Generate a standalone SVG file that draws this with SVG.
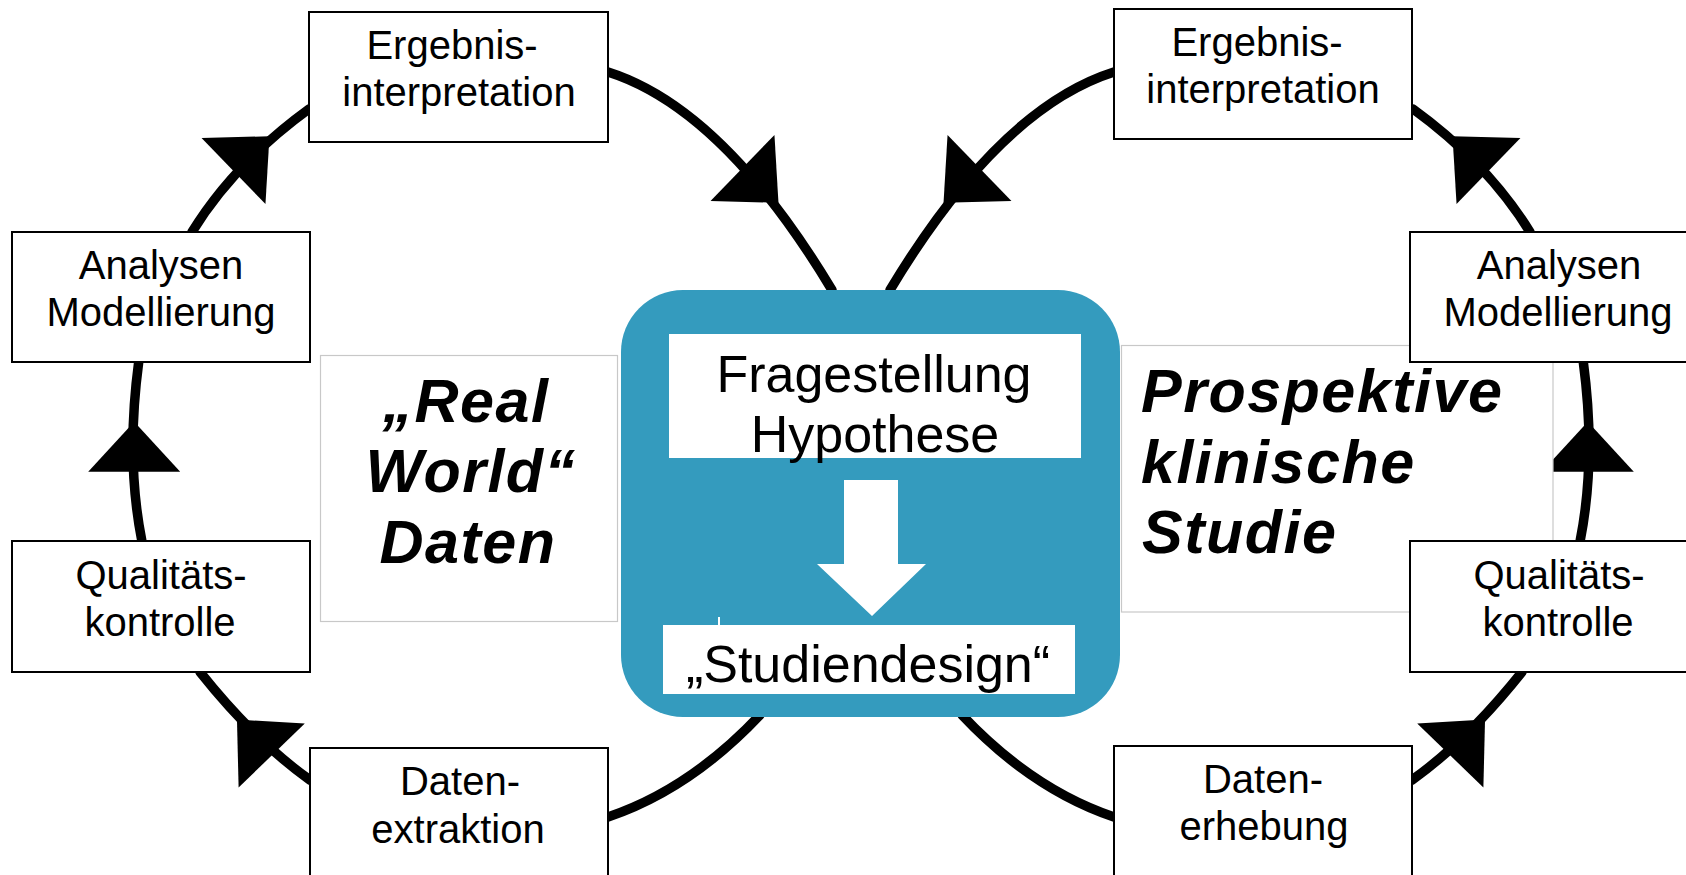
<svg xmlns="http://www.w3.org/2000/svg" xmlns:xlink="http://www.w3.org/1999/xlink" width="1686" height="875" viewBox="0 0 1686 875">
  <style>
    .ring { fill: none; stroke: #000; stroke-width: 9.5; stroke-linecap: round; }
    .ah { fill: #000; }
    .box { fill: #fff; stroke: #000; stroke-width: 2; }
    .frame { fill: #fff; stroke: #c8c8c8; stroke-width: 1.2; }
    .lbl { font-family: "Liberation Sans", Arial, sans-serif; font-size: 40px; fill: #000; text-anchor: middle; }
    .big { font-family: "Liberation Sans", Arial, sans-serif; font-size: 61px; font-weight: bold; font-style: italic; fill: #000; letter-spacing: 1.5px; }
    .ctr { font-family: "Liberation Sans", Arial, sans-serif; font-size: 52px; fill: #000; text-anchor: middle; }
  </style>
  <defs>
    <path id="arrowHead" d="M0,-46 L50,0 L0,46 Z"/>
  </defs>
  <rect width="1686" height="875" fill="#fff"/>

  <g id="connectors">
    <!-- left cycle -->
    <path class="ring" d="M192,232 Q234.4,163.2 309,109"/>
    <path class="ring" d="M608,72 Q723,108.5 832,290"/>
    <path class="ring" d="M760,715 Q690,789.3 608,817"/>
    <path class="ring" d="M310,780 Q255.1,741.1 200,672"/>
    <path class="ring" d="M141.7,540 Q125.8,459 138.7,362"/>
    <use class="ah" xlink:href="#arrowHead" transform="translate(233.5,171) rotate(-44)"/>
    <use class="ah" xlink:href="#arrowHead" transform="translate(742.5,168) rotate(44)"/>
    <use class="ah" xlink:href="#arrowHead" transform="translate(134.2,471.7) rotate(-90)"/>
    <use class="ah" xlink:href="#arrowHead" transform="translate(271.7,755.5) rotate(-134)"/>
    <!-- right cycle -->
    <path class="ring" d="M1530,232 Q1487.6,163.2 1413,109"/>
    <path class="ring" d="M1114,72 Q999,108.5 890,290"/>
    <path class="ring" d="M962,715 Q1032,789.3 1114,817"/>
    <path class="ring" d="M1412,780 Q1466.9,741.1 1522,672"/>
    <path class="ring" d="M1580.3,540 Q1596.2,459 1583.3,362"/>
    <use class="ah" xlink:href="#arrowHead" transform="translate(1488.5,171) rotate(224)"/>
    <use class="ah" xlink:href="#arrowHead" transform="translate(979.5,168) rotate(136)"/>
    <use class="ah" xlink:href="#arrowHead" transform="translate(1587.8,471.7) rotate(-90)"/>
    <use class="ah" xlink:href="#arrowHead" transform="translate(1450.3,755.5) rotate(-46)"/>
  </g>

  <g id="realWorld">
    <rect class="frame" x="320.5" y="355.5" width="297" height="266"/>
    <text class="big" text-anchor="middle" x="466" y="422">„Real</text>
    <text class="big" text-anchor="middle" x="471" y="492">World“</text>
    <text class="big" text-anchor="middle" x="468" y="563">Daten</text>
  </g>

  <g id="prospektiv">
    <rect class="frame" x="1121.5" y="345.5" width="431.5" height="266.5"/>
    <text class="big" x="1141" y="412">Prospektive</text>
    <text class="big" x="1141" y="483">klinische</text>
    <text class="big" x="1142" y="553">Studie</text>
  </g>

  <g id="center">
    <rect x="621" y="290" width="499" height="427" rx="62" ry="62" fill="#349bbe"/>
    <rect x="669" y="334" width="412" height="124" fill="#fff"/>
    <text class="ctr" x="874" y="392">Fragestellung</text>
    <text class="ctr" x="875" y="452">Hypothese</text>
    <polygon points="844,480 898,480 898,564 926,564 872,616 817,564 844,564" fill="#fff"/>
    <rect x="663" y="625" width="412" height="69" fill="#fff"/>
    <line x1="719" y1="617" x2="719" y2="626" stroke="#fff" stroke-width="2"/>
    <text class="ctr" x="868" y="682">„Studiendesign“</text>
  </g>

  <g id="l-ergebnis">
    <rect class="box" x="309" y="12" width="299" height="130"/>
    <text class="lbl" x="452" y="59">Ergebnis-</text>
    <text class="lbl" x="459" y="106">interpretation</text>
  </g>
  <g id="l-analysen">
    <rect class="box" x="12" y="232" width="298" height="130"/>
    <text class="lbl" x="161" y="279">Analysen</text>
    <text class="lbl" x="161" y="326">Modellierung</text>
  </g>
  <g id="l-qualitaet">
    <rect class="box" x="12" y="541" width="298" height="131"/>
    <text class="lbl" x="161" y="589">Qualitäts-</text>
    <text class="lbl" x="160" y="636">kontrolle</text>
  </g>
  <g id="l-daten">
    <rect class="box" x="310" y="748" width="298" height="140"/>
    <text class="lbl" x="460" y="795">Daten-</text>
    <text class="lbl" x="458" y="843">extraktion</text>
  </g>

  <g id="r-ergebnis">
    <rect class="box" x="1114" y="9" width="298" height="130"/>
    <text class="lbl" x="1257" y="56">Ergebnis-</text>
    <text class="lbl" x="1263" y="103">interpretation</text>
  </g>
  <g id="r-analysen">
    <rect class="box" x="1410" y="232" width="298" height="130"/>
    <text class="lbl" x="1559" y="279">Analysen</text>
    <text class="lbl" x="1558" y="326">Modellierung</text>
  </g>
  <g id="r-qualitaet">
    <rect class="box" x="1410" y="541" width="298" height="131"/>
    <text class="lbl" x="1559" y="589">Qualitäts-</text>
    <text class="lbl" x="1558" y="636">kontrolle</text>
  </g>
  <g id="r-daten">
    <rect class="box" x="1114" y="746" width="298" height="140"/>
    <text class="lbl" x="1263" y="793">Daten-</text>
    <text class="lbl" x="1264" y="840">erhebung</text>
  </g>
</svg>
